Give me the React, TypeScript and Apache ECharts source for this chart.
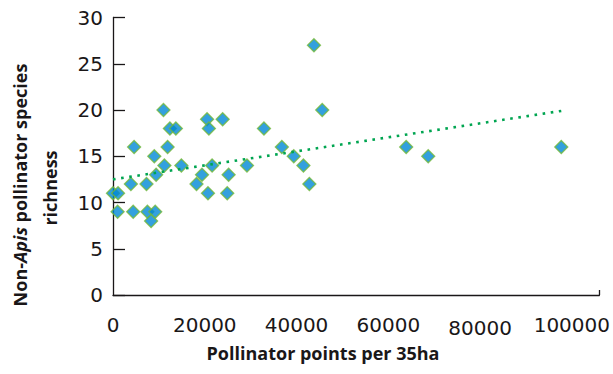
import React, { useEffect, useRef } from "react";
import * as echarts from "echarts";

const pollinatorPoints = [
  11000, 12400, 13700, 4600, 11900, 9000, 11200, 14900, 9400, 3900, 7300, 0, 1100,
  1000, 4400, 7500, 9200, 8300, 20500, 23900, 20900, 21600, 29200, 19400, 25200,
  18200, 20700, 24900, 43800, 45600, 32900, 36800, 39400, 41500, 42800, 63900,
  68700, 97700,
];
const speciesRichness = [
  20, 18, 18, 16, 16, 15, 14, 14, 13, 12, 12, 11, 11, 9, 9, 9, 9, 8, 19, 19, 18, 14,
  14, 13, 13, 12, 11, 11, 27, 20, 18, 16, 15, 14, 12, 16, 15, 16,
];
const trendX = [0, 97700];
const trendY = [12.5, 19.9];
const xTickLabels = [0, 20000, 40000, 60000, 80000, 100000];
const yTickLabels = [0, 5, 10, 15, 20, 25, 30];

const X_MAX = 106000;
const AXIS_FONT = "DejaVu Sans";
const TITLE_FONT = "Open Sans";
const INK = "#1a1718";

export default function App() {
  const ref = useRef<HTMLDivElement>(null);
  useEffect(() => {
    if (!ref.current) return;
    const chart = echarts.init(ref.current, null, { renderer: "svg" });
    const scatterData = pollinatorPoints.map((x, i) => [x, speciesRichness[i]]);
    const trendData = trendX.map((x, i) => [x, trendY[i]]);
    chart.setOption({
      animation: false,
      backgroundColor: "#ffffff",
      grid: { left: 113, right: 7, top: 17.5, bottom: 79, containLabel: false },
      xAxis: {
        type: "value",
        min: 0,
        max: X_MAX,
        interval: 20000,
        splitLine: { show: false },
        axisLine: { show: true, lineStyle: { color: INK, width: 1.3 } },
        axisTick: {
          show: true,
          inside: true,
          length: 5,
          customValues: [X_MAX],
          lineStyle: { color: INK, width: 1.3 },
        },
        axisLabel: {
          customValues: xTickLabels,
          margin: 20,
          fontFamily: AXIS_FONT,
          fontSize: 20,
          color: INK,
          formatter: (v: number) => (v === 80000 ? "{low|" + v + "}" : String(v)),
          rich: {
            low: { fontFamily: AXIS_FONT, fontSize: 20, color: INK, padding: [3, 0, 0, 0] },
          },
        },
      },
      yAxis: {
        type: "value",
        min: 0,
        max: 30,
        interval: 5,
        splitLine: { show: false },
        axisLine: { show: true, lineStyle: { color: INK, width: 1.3 } },
        axisTick: {
          show: true,
          inside: true,
          length: 12,
          lineStyle: { color: INK, width: 1.3 },
        },
        axisLabel: {
          customValues: yTickLabels,
          margin: 10,
          fontFamily: AXIS_FONT,
          fontSize: 20,
          color: INK,
        },
      },
      series: [
        {
          type: "scatter",
          data: scatterData,
          symbol: "diamond",
          symbolSize: 13,
          itemStyle: { color: "#0088d6", borderColor: "#72b83a", borderWidth: 1.3 },
          z: 2,
        },
        {
          type: "line",
          data: trendData,
          showSymbol: false,
          symbol: "none",
          lineStyle: { color: "#00a551", width: 2.6, type: [2.6, 5.6], cap: "butt" },
          z: 3,
        },
      ],
      graphic: [
        {
          type: "text",
          x: 323,
          y: 353,
          style: {
            text: "Pollinator points per 35ha",
            fontFamily: TITLE_FONT,
            fontWeight: "bold",
            fontSize: 18,
            fill: INK,
            textAlign: "center",
            textVerticalAlign: "middle",
          },
        },
        {
          type: "text",
          x: 20,
          y: 185,
          rotation: Math.PI / 2,
          style: {
            text: "{b|Non-}{bi|Apis}{b| pollinator species}",
            textAlign: "center",
            textVerticalAlign: "middle",
            rich: {
              b: { fontFamily: TITLE_FONT, fontWeight: "bold", fontSize: 18, fill: INK },
              bi: {
                fontFamily: TITLE_FONT,
                fontWeight: "bold",
                fontStyle: "italic",
                fontSize: 18,
                fill: INK,
              },
            },
          },
        },
        {
          type: "text",
          x: 50,
          y: 188,
          rotation: Math.PI / 2,
          style: {
            text: "richness",
            fontFamily: TITLE_FONT,
            fontWeight: "bold",
            fontSize: 18,
            fill: INK,
            textAlign: "center",
            textVerticalAlign: "middle",
          },
        },
      ],
    });
    return () => chart.dispose();
  }, []);
  return <div ref={ref} style={{ width: 613, height: 374, position: "absolute", left: 0, top: 0 }} />;
}
